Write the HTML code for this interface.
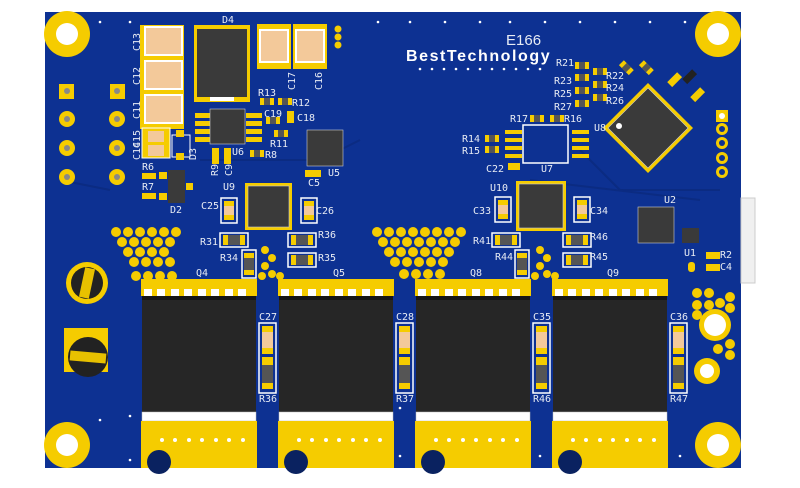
<!DOCTYPE html>
<html><head><meta charset="utf-8"><style>
html,body{margin:0;padding:0;background:#fff;width:800px;height:488px;overflow:hidden}
svg{display:block}
text{font-family:"DejaVu Sans Mono","Liberation Mono",monospace;fill:#e8ecf4;font-size:10px}
</style></head><body>
<svg width="800" height="488" viewBox="0 0 800 488" xmlns="http://www.w3.org/2000/svg">
<defs>
<g id="mos">
<rect x="-1" y="279" width="116" height="17" fill="#f5cc00"/>
<g fill="#fff"><rect x="2" y="289" width="8" height="8"/><rect x="15" y="289" width="8" height="8"/><rect x="29" y="289" width="8" height="8"/><rect x="42" y="289" width="8" height="8"/><rect x="56" y="289" width="8" height="8"/><rect x="69" y="289" width="8" height="8"/><rect x="83" y="289" width="8" height="8"/><rect x="96" y="289" width="8" height="8"/></g>
<rect x="0" y="296" width="114" height="116" fill="#262626"/>
<rect x="0" y="296" width="114" height="4" fill="#161616"/>
<rect x="0" y="412" width="114" height="9" fill="#fff" stroke="#bbb" stroke-width="0.5"/>
<rect x="-1" y="421" width="116" height="47" fill="#f5cc00"/>
<g fill="#fff"><circle cx="20" cy="440" r="2"/><circle cx="33" cy="440" r="2"/><circle cx="47" cy="440" r="2"/><circle cx="60" cy="440" r="2"/><circle cx="74" cy="440" r="2"/><circle cx="87" cy="440" r="2"/><circle cx="101" cy="440" r="2"/></g>
<circle cx="17" cy="462" r="12" fill="#0a2260"/>
</g>
<g id="vcap">
<rect x="0" y="0" width="17" height="70" fill="none" stroke="#fff" stroke-width="1.5"/>
<rect x="3" y="3" width="11" height="28" fill="#f5cc00"/><rect x="3" y="9" width="11" height="16" fill="#f3c99a"/>
<rect x="3" y="34" width="11" height="32" fill="#f5cc00"/><rect x="3" y="42" width="11" height="18" fill="#555"/>
</g>
<g id="sr"><rect x="0" y="0" width="14" height="7" fill="#f5cc00"/><rect x="4" y="0" width="6" height="7" fill="#555"/></g>
</defs>
<rect x="45" y="12" width="696" height="456" fill="#0d3192"/>
<g stroke="#0b2b82" stroke-width="2" fill="none">
<path d="M60 180 L110 190"/><path d="M200 160 L320 160 L360 140"/><path d="M580 150 L620 190 L720 190"/><path d="M530 180 L700 200"/>
</g>
<g fill="#f5cc00"><circle cx="67" cy="34" r="23"/><circle cx="718" cy="34" r="23"/><circle cx="67" cy="445" r="23"/><circle cx="718" cy="445" r="23"/></g>
<g fill="#fff"><circle cx="67" cy="34" r="11"/><circle cx="718" cy="34" r="11"/><circle cx="67" cy="445" r="11"/><circle cx="718" cy="445" r="11"/></g>
<g fill="#f5cc00"><rect x="59" y="84" width="15" height="15"/><rect x="110" y="84" width="15" height="15"/>
<circle cx="67" cy="119" r="8"/><circle cx="117" cy="119" r="8"/><circle cx="67" cy="148" r="8"/><circle cx="117" cy="148" r="8"/><circle cx="67" cy="177" r="8"/><circle cx="117" cy="177" r="8"/></g>
<g fill="#888"><circle cx="67" cy="91" r="3"/><circle cx="117" cy="91" r="3"/><circle cx="67" cy="119" r="3"/><circle cx="117" cy="119" r="3"/><circle cx="67" cy="148" r="3"/><circle cx="117" cy="148" r="3"/><circle cx="67" cy="177" r="3"/><circle cx="117" cy="177" r="3"/></g>
<g><rect x="140" y="25" width="44" height="104" fill="#f5cc00"/>
<rect x="145" y="27" width="37" height="28" fill="#f3c99a" stroke="#fff" stroke-width="2"/>
<rect x="145" y="61" width="37" height="28" fill="#f3c99a" stroke="#fff" stroke-width="2"/>
<rect x="145" y="95" width="37" height="28" fill="#f3c99a" stroke="#fff" stroke-width="2"/></g>
<rect x="142" y="128" width="28" height="30" fill="#f5cc00" stroke="#fff"/>
<rect x="148" y="131" width="16" height="11" fill="#f3c99a"/><rect x="148" y="145" width="16" height="11" fill="#f3c99a"/>
<rect x="194" y="25" width="56" height="77" fill="#f5cc00"/><rect x="197" y="29" width="50" height="68" fill="#3a3a3a"/><rect x="210" y="97" width="24" height="4" fill="#fff"/>
<rect x="257" y="24" width="34" height="45" fill="#f5cc00"/><rect x="260" y="30" width="28" height="32" fill="#f3c99a" stroke="#fff" stroke-width="2"/>
<rect x="293" y="24" width="34" height="45" fill="#f5cc00"/><rect x="296" y="30" width="28" height="32" fill="#f3c99a" stroke="#fff" stroke-width="2"/>
<g fill="#f5cc00"><circle cx="338" cy="29" r="3.5"/><circle cx="338" cy="37" r="3.5"/><circle cx="338" cy="45" r="3.5"/></g>
<g fill="#f5cc00"><rect x="195" y="113" width="16" height="5"/><rect x="195" y="121" width="16" height="5"/><rect x="195" y="129" width="16" height="5"/><rect x="195" y="137" width="16" height="5"/><rect x="246" y="113" width="16" height="5"/><rect x="246" y="121" width="16" height="5"/><rect x="246" y="129" width="16" height="5"/><rect x="246" y="137" width="16" height="5"/></g>
<rect x="210" y="109" width="35" height="35" fill="#3a3a3a" stroke="#ccc" stroke-width="0.6"/>
<rect x="172" y="135" width="18" height="22" fill="none" stroke="#fff"/><rect x="176" y="130" width="8" height="7" fill="#f5cc00"/><rect x="176" y="153" width="8" height="7" fill="#f5cc00"/>
<rect x="168" y="170" width="17" height="33" fill="#3a3a3a"/>
<g fill="#f5cc00"><rect x="159" y="172" width="8" height="7"/><rect x="159" y="193" width="8" height="7"/><rect x="186" y="183" width="7" height="7"/><rect x="142" y="173" width="14" height="6"/><rect x="142" y="193" width="14" height="6"/></g>
<use href="#sr" x="260" y="98"/><use href="#sr" x="278" y="98"/><use href="#sr" x="266" y="117"/><use href="#sr" x="274" y="130"/><use href="#sr" x="250" y="150"/>
<g fill="#f5cc00"><rect x="287" y="111" width="7" height="12"/><rect x="212" y="148" width="7" height="16"/><rect x="224" y="148" width="7" height="16"/><rect x="305" y="170" width="16" height="7"/></g>
<rect x="307" y="130" width="36" height="36" fill="#3a3a3a" stroke="#ccc" stroke-width="0.6"/>
<rect x="245" y="183" width="47" height="47" fill="#f5cc00"/><rect x="248" y="186" width="41" height="41" fill="#3a3a3a" stroke="#ccc" stroke-width="0.6"/>
<rect x="221" y="198" width="16" height="25" fill="none" stroke="#fff" stroke-width="1.5"/><rect x="224" y="201" width="10" height="19" fill="#f5cc00"/><rect x="224" y="206" width="10" height="9" fill="#f3c99a"/>
<rect x="301" y="198" width="16" height="25" fill="none" stroke="#fff" stroke-width="1.5"/><rect x="304" y="201" width="10" height="19" fill="#f5cc00"/><rect x="304" y="206" width="10" height="9" fill="#f3c99a"/>
<g><rect x="220" y="233" width="28" height="14" fill="none" stroke="#fff" stroke-width="1.5"/><rect x="223" y="235" width="22" height="10" fill="#f5cc00"/><rect x="228" y="235" width="12" height="10" fill="#555"/>
<rect x="288" y="233" width="28" height="14" fill="none" stroke="#fff" stroke-width="1.5"/><rect x="291" y="235" width="22" height="10" fill="#f5cc00"/><rect x="296" y="235" width="12" height="10" fill="#555"/>
<rect x="288" y="253" width="28" height="14" fill="none" stroke="#fff" stroke-width="1.5"/><rect x="291" y="255" width="22" height="10" fill="#f5cc00"/><rect x="296" y="255" width="12" height="10" fill="#555"/>
<rect x="242" y="250" width="14" height="28" fill="none" stroke="#fff" stroke-width="1.5"/><rect x="244" y="253" width="10" height="22" fill="#f5cc00"/><rect x="244" y="258" width="10" height="12" fill="#555"/></g>
<g><rect x="492" y="233" width="28" height="14" fill="none" stroke="#fff" stroke-width="1.5"/><rect x="495" y="235" width="22" height="10" fill="#f5cc00"/><rect x="500" y="235" width="12" height="10" fill="#555"/>
<rect x="563" y="233" width="28" height="14" fill="none" stroke="#fff" stroke-width="1.5"/><rect x="566" y="235" width="22" height="10" fill="#f5cc00"/><rect x="571" y="235" width="12" height="10" fill="#555"/>
<rect x="563" y="253" width="28" height="14" fill="none" stroke="#fff" stroke-width="1.5"/><rect x="566" y="255" width="22" height="10" fill="#f5cc00"/><rect x="571" y="255" width="12" height="10" fill="#555"/>
<rect x="515" y="250" width="14" height="28" fill="none" stroke="#fff" stroke-width="1.5"/><rect x="517" y="253" width="10" height="22" fill="#f5cc00"/><rect x="517" y="258" width="10" height="12" fill="#555"/></g>
<rect x="516" y="181" width="50" height="50" fill="#f5cc00"/><rect x="519" y="184" width="44" height="44" fill="#3a3a3a" stroke="#ccc" stroke-width="0.6"/>
<rect x="495" y="197" width="16" height="25" fill="none" stroke="#fff" stroke-width="1.5"/><rect x="498" y="200" width="10" height="19" fill="#f5cc00"/><rect x="498" y="205" width="10" height="9" fill="#f3c99a"/>
<rect x="574" y="197" width="16" height="25" fill="none" stroke="#fff" stroke-width="1.5"/><rect x="577" y="200" width="10" height="19" fill="#f5cc00"/><rect x="577" y="205" width="10" height="9" fill="#f3c99a"/>
<g fill="#f5cc00"><rect x="505" y="130" width="17" height="4"/><rect x="505" y="138" width="17" height="4"/><rect x="505" y="146" width="17" height="4"/><rect x="505" y="154" width="17" height="4"/><rect x="572" y="130" width="17" height="4"/><rect x="572" y="138" width="17" height="4"/><rect x="572" y="146" width="17" height="4"/><rect x="572" y="154" width="17" height="4"/></g>
<rect x="523" y="125" width="45" height="38" fill="none" stroke="#fff" stroke-width="1.5"/>
<use href="#sr" x="530" y="115"/><use href="#sr" x="550" y="115"/>
<use href="#sr" x="485" y="135"/><use href="#sr" x="485" y="146"/>
<g fill="#f5cc00"><rect x="508" y="163" width="12" height="7"/></g>
<use href="#sr" x="575" y="62"/><use href="#sr" x="575" y="74"/><use href="#sr" x="575" y="87"/><use href="#sr" x="575" y="100"/>
<use href="#sr" x="593" y="68"/><use href="#sr" x="593" y="81"/><use href="#sr" x="593" y="94"/>
<polygon points="648,83 693,128 648,173 603,128" fill="#f5cc00"/>
<polygon points="648,88 688,128 648,168 608,128" fill="#3a3a3a" stroke="#ccc" stroke-width="0.6"/>
<circle cx="619" cy="126" r="3" fill="#fff"/>
<g transform="rotate(45 626 68)"><use href="#sr" x="619" y="64"/></g>
<g transform="rotate(45 646 68)"><use href="#sr" x="639" y="64"/></g>
<g transform="rotate(-45 675 80)"><rect x="668" y="76" width="14" height="7" fill="#f5cc00"/></g>
<g transform="rotate(-45 690 77)"><rect x="683" y="73" width="14" height="7" fill="#222"/></g>
<g transform="rotate(-45 698 95)"><rect x="691" y="91" width="14" height="7" fill="#f5cc00"/></g>
<rect x="716" y="110" width="12" height="12" fill="#f5cc00"/><circle cx="722" cy="116" r="3" fill="#fff"/>
<g fill="#f5cc00"><circle cx="722" cy="129" r="6"/><circle cx="722" cy="143" r="6"/><circle cx="722" cy="158" r="6"/><circle cx="722" cy="172" r="6"/></g>
<g fill="#0d3192"><circle cx="722" cy="129" r="3"/><circle cx="722" cy="143" r="3"/><circle cx="722" cy="158" r="3"/><circle cx="722" cy="172" r="3"/></g>
<rect x="741" y="198" width="14" height="85" fill="#f0f0f0" stroke="#ccc"/>
<rect x="638" y="207" width="36" height="36" fill="#3a3a3a" stroke="#ccc" stroke-width="0.6"/>
<rect x="682" y="228" width="17" height="15" fill="#3a3a3a"/>
<g fill="#f5cc00"><rect x="706" y="252" width="14" height="7"/><rect x="706" y="264" width="14" height="7"/><rect x="688" y="262" width="7" height="10" rx="3"/></g>
<g fill="#f5cc00"><circle cx="715" cy="325" r="16"/><circle cx="707" cy="371" r="13"/>
<circle cx="697" cy="293" r="5"/><circle cx="709" cy="293" r="5"/><circle cx="697" cy="305" r="5"/><circle cx="709" cy="305" r="5"/><circle cx="720" cy="303" r="5"/><circle cx="730" cy="297" r="5"/><circle cx="730" cy="308" r="5"/><circle cx="697" cy="315" r="5"/><circle cx="730" cy="344" r="5"/><circle cx="730" cy="355" r="5"/><circle cx="718" cy="349" r="5"/></g>
<g fill="#fff"><circle cx="715" cy="325" r="11"/><circle cx="707" cy="371" r="7"/></g>
<circle cx="87" cy="283" r="21" fill="#f5cc00"/><circle cx="87" cy="283" r="16" fill="#222"/>
<rect x="82" y="268" width="10" height="30" fill="#e8c100" transform="rotate(12 87 283)"/>
<rect x="64" y="328" width="44" height="44" fill="#f5cc00"/>
<circle cx="88" cy="357" r="20" fill="#222"/>
<rect x="70" y="352" width="36" height="10" fill="#e8c100" transform="rotate(5 88 357)"/>
<g fill="#f5cc00">
<circle cx="116" cy="232" r="5"/><circle cx="128" cy="232" r="5"/><circle cx="140" cy="232" r="5"/><circle cx="152" cy="232" r="5"/><circle cx="164" cy="232" r="5"/><circle cx="176" cy="232" r="5"/>
<circle cx="122" cy="242" r="5"/><circle cx="134" cy="242" r="5"/><circle cx="146" cy="242" r="5"/><circle cx="158" cy="242" r="5"/><circle cx="170" cy="242" r="5"/>
<circle cx="128" cy="252" r="5"/><circle cx="140" cy="252" r="5"/><circle cx="152" cy="252" r="5"/><circle cx="164" cy="252" r="5"/>
<circle cx="134" cy="262" r="5"/><circle cx="146" cy="262" r="5"/><circle cx="158" cy="262" r="5"/><circle cx="170" cy="262" r="5"/>
<circle cx="136" cy="276" r="5"/><circle cx="148" cy="276" r="5"/><circle cx="160" cy="276" r="5"/><circle cx="172" cy="276" r="5"/>
<circle cx="377" cy="232" r="5"/><circle cx="389" cy="232" r="5"/><circle cx="401" cy="232" r="5"/><circle cx="413" cy="232" r="5"/><circle cx="425" cy="232" r="5"/><circle cx="437" cy="232" r="5"/><circle cx="449" cy="232" r="5"/><circle cx="461" cy="232" r="5"/>
<circle cx="383" cy="242" r="5"/><circle cx="395" cy="242" r="5"/><circle cx="407" cy="242" r="5"/><circle cx="419" cy="242" r="5"/><circle cx="431" cy="242" r="5"/><circle cx="443" cy="242" r="5"/><circle cx="455" cy="242" r="5"/>
<circle cx="389" cy="252" r="5"/><circle cx="401" cy="252" r="5"/><circle cx="413" cy="252" r="5"/><circle cx="425" cy="252" r="5"/><circle cx="437" cy="252" r="5"/><circle cx="449" cy="252" r="5"/>
<circle cx="395" cy="262" r="5"/><circle cx="407" cy="262" r="5"/><circle cx="419" cy="262" r="5"/><circle cx="431" cy="262" r="5"/><circle cx="443" cy="262" r="5"/>
<circle cx="404" cy="274" r="5"/><circle cx="416" cy="274" r="5"/><circle cx="428" cy="274" r="5"/><circle cx="440" cy="274" r="5"/>
<circle cx="265" cy="250" r="4"/><circle cx="272" cy="258" r="4"/><circle cx="265" cy="266" r="4"/><circle cx="272" cy="274" r="4"/><circle cx="262" cy="276" r="4"/><circle cx="280" cy="276" r="4"/>
<circle cx="540" cy="250" r="4"/><circle cx="547" cy="258" r="4"/><circle cx="540" cy="266" r="4"/><circle cx="547" cy="274" r="4"/><circle cx="535" cy="276" r="4"/><circle cx="555" cy="276" r="4"/>
</g>
<use href="#mos" x="142"/><use href="#mos" x="279"/><use href="#mos" x="416"/><use href="#mos" x="553"/>
<use href="#vcap" x="259" y="323"/><use href="#vcap" x="396" y="323"/><use href="#vcap" x="533" y="323"/><use href="#vcap" x="670" y="323"/>
<g fill="#fff"><circle cx="100" cy="22" r="1.3"/><circle cx="130" cy="22" r="1.3"/><circle cx="378" cy="22" r="1.3"/><circle cx="410" cy="22" r="1.3"/><circle cx="445" cy="22" r="1.3"/><circle cx="480" cy="22" r="1.3"/><circle cx="510" cy="22" r="1.3"/><circle cx="545" cy="22" r="1.3"/><circle cx="580" cy="22" r="1.3"/><circle cx="615" cy="22" r="1.3"/><circle cx="650" cy="22" r="1.3"/><circle cx="685" cy="22" r="1.3"/>
<circle cx="420" cy="69" r="1.3"/><circle cx="432" cy="69" r="1.3"/><circle cx="444" cy="69" r="1.3"/><circle cx="456" cy="69" r="1.3"/><circle cx="468" cy="69" r="1.3"/><circle cx="480" cy="69" r="1.3"/><circle cx="492" cy="69" r="1.3"/><circle cx="504" cy="69" r="1.3"/><circle cx="516" cy="69" r="1.3"/><circle cx="528" cy="69" r="1.3"/><circle cx="540" cy="69" r="1.3"/>
<circle cx="130" cy="416" r="1.3"/><circle cx="100" cy="420" r="1.3"/><circle cx="130" cy="460" r="1.3"/><circle cx="400" cy="408" r="1.3"/><circle cx="400" cy="456" r="1.3"/><circle cx="540" cy="456" r="1.3"/><circle cx="680" cy="456" r="1.3"/></g>
<text x="506" y="45" style="font-size:15px;font-family:'Liberation Sans',sans-serif;fill:#e8ecf4">E166</text>
<text x="406" y="61" style="font-size:16px;font-weight:bold;font-family:'Liberation Sans',sans-serif;fill:#fff;letter-spacing:-0.6px" textLength="143">BestTechnology</text>
<text x="222" y="23">D4</text>
<text x="140" y="51" transform="rotate(-90 140 51)">C13</text>
<text x="140" y="85" transform="rotate(-90 140 85)">C12</text>
<text x="140" y="119" transform="rotate(-90 140 119)">C11</text>
<text x="140" y="148" transform="rotate(-90 140 148)">C15</text>
<text x="140" y="160" transform="rotate(-90 140 160)">C14</text>
<text x="196" y="160" transform="rotate(-90 196 160)">D3</text>
<text x="295" y="90" transform="rotate(-90 295 90)">C17</text>
<text x="322" y="90" transform="rotate(-90 322 90)">C16</text>
<text x="258" y="96">R13</text><text x="292" y="106">R12</text><text x="264" y="117">C19</text><text x="297" y="121">C18</text>
<text x="270" y="147">R11</text><text x="265" y="158">R8</text><text x="232" y="155">U6</text>
<text x="218" y="176" transform="rotate(-90 218 176)">R9</text><text x="232" y="176" transform="rotate(-90 232 176)">C9</text>
<text x="142" y="170">R6</text><text x="142" y="190">R7</text><text x="170" y="213">D2</text>
<text x="328" y="176">U5</text><text x="308" y="186">C5</text>
<text x="223" y="190">U9</text><text x="201" y="209">C25</text><text x="316" y="214">C26</text>
<text x="200" y="245">R31</text><text x="318" y="238">R36</text><text x="220" y="261">R34</text><text x="318" y="261">R35</text>
<text x="196" y="276">Q4</text><text x="333" y="276">Q5</text><text x="470" y="276">Q8</text><text x="607" y="276">Q9</text>
<text x="259" y="320">C27</text><text x="396" y="320">C28</text><text x="533" y="320">C35</text><text x="670" y="320">C36</text>
<text x="259" y="402">R36</text><text x="396" y="402">R37</text><text x="533" y="402">R46</text><text x="670" y="402">R47</text>
<text x="556" y="66">R21</text><text x="554" y="84">R23</text><text x="554" y="97">R25</text><text x="554" y="110">R27</text>
<text x="606" y="79">R22</text><text x="606" y="91">R24</text><text x="606" y="104">R26</text>
<text x="510" y="122">R17</text><text x="564" y="122">R16</text><text x="462" y="142">R14</text><text x="462" y="154">R15</text>
<text x="486" y="172">C22</text><text x="541" y="172">U7</text><text x="594" y="131">U8</text>
<text x="490" y="191">U10</text><text x="473" y="214">C33</text><text x="590" y="214">C34</text>
<text x="473" y="244">R41</text><text x="590" y="240">R46</text><text x="495" y="260">R44</text><text x="590" y="260">R45</text>
<text x="664" y="203">U2</text><text x="684" y="256">U1</text><text x="720" y="258">R2</text><text x="720" y="270">C4</text>
</svg>
</body></html>
